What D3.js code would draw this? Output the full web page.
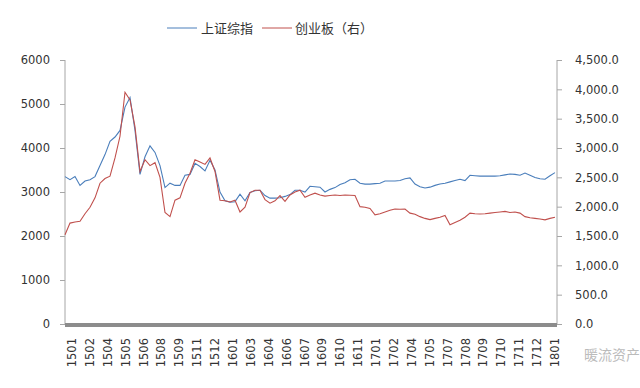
<!DOCTYPE html>
<html lang="zh">
<head>
    <meta charset="UTF-8">
    <title>上证综指 vs 创业板</title>
    <script src="https://d3js.org/d3.v7.min.js"></script>
    <style>
        body { margin: 0; background: #fff; }
        text { font-family: "DejaVu Sans", "Noto Sans CJK SC", sans-serif; fill: #333; }
    </style>
</head>
<body>
    <script>
        const tickLabels = ["1501","1502","1504","1505","1506","1508","1509","1511","1512","1601",
            "1603","1604","1606","1607","1609","1610","1611","1701","1702","1704",
            "1705","1707","1708","1709","1710","1711","1712","1801"];

        // 上证综指 (left axis)
        const shIndex = [3350,3280,3350,3150,3250,3280,3350,3600,3850,4150,
            4250,4400,4930,5150,4400,3400,3800,4050,3900,3600,
            3100,3200,3150,3150,3380,3400,3650,3580,3480,3720,
            3500,3000,2800,2770,2780,2950,2800,2990,3030,3040,
            2920,2860,2860,2870,2900,2940,3040,3040,3000,3130,
            3120,3110,3000,3060,3100,3170,3210,3280,3290,3200,
            3180,3180,3190,3200,3250,3250,3250,3260,3300,3320,
            3180,3120,3090,3110,3150,3180,3200,3230,3260,3290,
            3260,3380,3370,3360,3360,3365,3360,3370,3390,3410,
            3400,3380,3430,3380,3330,3300,3290,3370,3440];

        // 创业板 (right axis)
        const cybIndex = [1520,1720,1740,1750,1880,1990,2150,2400,2480,2520,
            2830,3200,3950,3820,3360,2600,2800,2700,2750,2500,
            1900,1830,2110,2150,2400,2570,2800,2760,2720,2830,
            2600,2110,2100,2080,2110,1910,1990,2240,2280,2280,
            2120,2060,2100,2190,2090,2200,2250,2280,2160,2200,
            2230,2200,2180,2190,2200,2190,2200,2195,2190,2000,
            1990,1970,1860,1880,1910,1940,1960,1955,1960,1890,
            1870,1830,1800,1780,1800,1820,1850,1690,1730,1770,
            1820,1890,1880,1875,1880,1890,1900,1910,1920,1900,
            1910,1890,1830,1810,1800,1790,1775,1800,1820];

        const leftTicks = [0,1000,2000,3000,4000,5000,6000];
        const rightTicks = [0,500,1000,1500,2000,2500,3000,3500,4000,4500];

        const width = 640, height = 388;
        const x0 = 65, x1 = 557, yTop = 60, yBottom = 324;

        const svg = d3.select("body").append("svg")
            .attr("width", width)
            .attr("height", height);

        const x = d3.scaleLinear().domain([0, shIndex.length - 1]).range([x0, x1 - 2]);
        const xLabel = d3.scalePoint().domain(tickLabels).range([72, 555]);
        const yLeft = d3.scaleLinear().domain([0, 6000]).range([yBottom, yTop]);
        const yRight = d3.scaleLinear().domain([0, 4500]).range([yBottom, yTop]);

        // left axis
        const leftAxis = svg.append("g")
            .attr("transform", `translate(${x0},0)`)
            .call(d3.axisLeft(yLeft).tickValues(leftTicks).tickSize(5).tickPadding(10).tickFormat(d3.format("d")));
        // right axis
        const rightAxis = svg.append("g")
            .attr("transform", `translate(${x1},0)`)
            .call(d3.axisRight(yRight).tickValues(rightTicks).tickSize(5).tickPadding(13).tickFormat(d3.format(",.1f")));

        [leftAxis, rightAxis].forEach(g => {
            g.select(".domain").remove();
            g.selectAll(".tick line").attr("stroke", "#a6a6a6");
            g.selectAll(".tick text").style("font-size", "11.5px").attr("fill", "#333");
        });
        svg.append("line").attr("x1", x0).attr("x2", x0).attr("y1", yTop).attr("y2", yBottom)
            .attr("stroke", "#a6a6a6");
        svg.append("line").attr("x1", x1).attr("x2", x1).attr("y1", yTop).attr("y2", yBottom)
            .attr("stroke", "#a6a6a6");

        // thick bottom axis
        svg.append("rect")
            .attr("x", x0).attr("y", yBottom - 1)
            .attr("width", x1 - x0).attr("height", 4)
            .attr("fill", "#8c8c8c");

        // x labels
        svg.append("g").selectAll("text")
            .data(tickLabels).enter().append("text")
            .attr("transform", d => `translate(${xLabel(d) + 4},338) rotate(-90)`)
            .attr("text-anchor", "end")
            .style("font-size", "11.5px")
            .text(d => d);

        // lines
        const lineSH = d3.line().x((d, i) => x(i)).y(d => yLeft(d));
        const lineCYB = d3.line().x((d, i) => x(i)).y(d => yRight(d));

        svg.append("path").datum(shIndex)
            .attr("d", lineSH)
            .attr("fill", "none").attr("stroke", "#4a7ebb").attr("stroke-width", 1.1);
        svg.append("path").datum(cybIndex)
            .attr("d", lineCYB)
            .attr("fill", "none").attr("stroke", "#c0504d").attr("stroke-width", 1.1);

        // legend
        const legend = svg.append("g").attr("transform", "translate(0,28)");
        legend.append("line").attr("x1", 167).attr("x2", 197).attr("y1", 0).attr("y2", 0)
            .attr("stroke", "#4a7ebb").attr("stroke-width", 1);
        legend.append("text").attr("x", 201).attr("y", 5).style("font-size", "13px").text("上证综指");
        legend.append("line").attr("x1", 262).attr("x2", 292).attr("y1", 0).attr("y2", 0)
            .attr("stroke", "#c0504d").attr("stroke-width", 1);
        legend.append("text").attr("x", 295).attr("y", 5).style("font-size", "13px").text("创业板（右）");

        // watermark
        svg.append("text").attr("x", 584).attr("y", 360)
            .style("font-size", "14px").style("fill", "#bbb")
            .text("暖流资产");
    </script>
</body>
</html>
